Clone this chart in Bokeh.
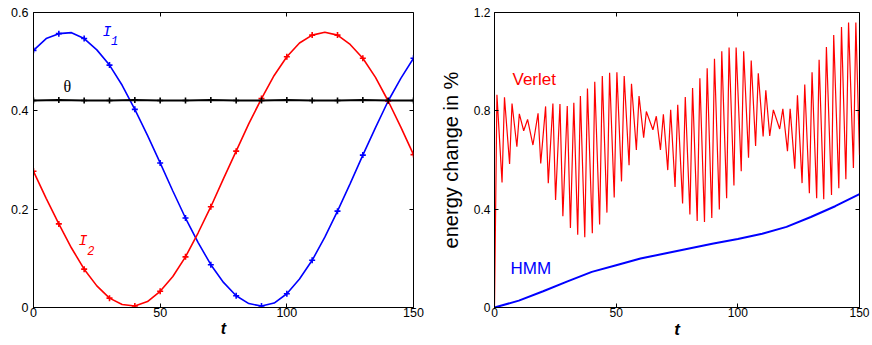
from bokeh.plotting import figure
from bokeh.models import LinearAxis, FixedTicker, Label, Range1d, CustomLabelingPolicy
from bokeh.layouts import row
from bokeh.embed import file_html
from bokeh.resources import INLINE

# ---------------- data: left panel ----------------
t_left = [0, 5, 10, 15, 20, 25, 30, 35, 40, 45, 50, 55, 60, 65, 70, 75,
          80, 85, 90, 95, 100, 105, 110, 115, 120, 125, 130, 135, 140, 145, 150]
I1 = [0.523, 0.547, 0.557, 0.559, 0.547, 0.524, 0.493, 0.452, 0.403, 0.350,
      0.294, 0.237, 0.182, 0.132, 0.087, 0.051, 0.024, 0.008, 0.003, 0.009,
      0.028, 0.058, 0.096, 0.143, 0.196, 0.252, 0.310, 0.366, 0.420, 0.466, 0.507]
I2 = [0.277, 0.222, 0.170, 0.121, 0.078, 0.044, 0.019, 0.006, 0.003, 0.012,
      0.033, 0.063, 0.103, 0.152, 0.205, 0.262, 0.318, 0.374, 0.425, 0.472,
      0.510, 0.538, 0.554, 0.560, 0.554, 0.535, 0.507, 0.468, 0.420, 0.367, 0.311]
t_theta = [0, 10, 20, 30, 40, 50, 60, 70, 80, 90, 100, 110, 120, 130, 140, 150]
theta = [0.421, 0.422, 0.421, 0.421, 0.422, 0.421, 0.421, 0.422,
         0.421, 0.421, 0.422, 0.421, 0.421, 0.422, 0.421, 0.421]

left_xticks = [0, 50, 100, 150]
left_xlabels = ["0", "50", "100", "150"]
left_yticks = [0, 0.2, 0.4, 0.6]
left_ylabels = ["0", "0.2", "0.4", "0.6"]

# ---------------- data: right panel ----------------
verlet_start_t, verlet_start_v = 0.0, 0.0
verlet_end_t, verlet_end_v = 150.0, 0.62
peaks_t = [1.0, 4.1, 7.2, 10.2, 13.6, 17.9, 21.0, 24.0, 26.9, 29.9, 32.6, 35.3,
           38.2, 41.2, 44.3, 47.3, 50.3, 53.3, 56.3, 59.4, 62.4, 66.5, 69.4, 72.4,
           75.3, 78.4, 81.4, 84.4, 87.4, 90.4, 93.4, 96.4, 99.3, 102.4, 105.5, 108.4,
           111.5, 114.6, 118.5, 121.5, 124.5, 127.5, 130.5, 133.4, 136.4, 139.4,
           142.6, 145.5, 148.5]
peaks_v = [0.865, 0.855, 0.830, 0.788, 0.765, 0.790, 0.818, 0.830, 0.828, 0.820,
           0.833, 0.860, 0.891, 0.918, 0.942, 0.955, 0.957, 0.942, 0.910, 0.860,
           0.797, 0.778, 0.786, 0.804, 0.825, 0.856, 0.893, 0.932, 0.973, 1.012,
           1.042, 1.058, 1.058, 1.042, 1.005, 0.953, 0.884, 0.804, 0.808, 0.808,
           0.863, 0.907, 0.957, 1.008, 1.060, 1.108, 1.141, 1.159, 1.159]
troughs_t = [3.1, 6.2, 9.2, 12.0, 15.8, 19.0, 22.1, 25.1, 28.1, 31.2, 34.2, 37.1,
             40.2, 43.2, 46.2, 49.2, 52.2, 55.3, 58.3, 61.3, 65.1, 68.2, 71.2, 74.2,
             77.3, 80.3, 83.3, 86.3, 89.3, 92.4, 95.4, 98.4, 101.4, 104.4, 107.3,
             110.4, 113.1, 117.2, 120.4, 123.4, 126.4, 129.4, 132.4, 135.3, 138.5,
             141.5, 144.4, 147.5]
troughs_v = [0.509, 0.584, 0.654, 0.719, 0.661, 0.586, 0.506, 0.437, 0.371, 0.323,
             0.296, 0.286, 0.302, 0.338, 0.386, 0.448, 0.513, 0.579, 0.641, 0.691,
             0.723, 0.641, 0.559, 0.490, 0.423, 0.378, 0.352, 0.348, 0.364, 0.399,
             0.444, 0.496, 0.554, 0.609, 0.657, 0.696, 0.698, 0.726, 0.636, 0.565,
             0.506, 0.465, 0.444, 0.440, 0.458, 0.485, 0.522, 0.568]
t_hmm = [0, 10, 20, 30, 40, 50, 60, 70, 80, 90, 100, 110, 120, 130, 140, 150]
hmm = [0.0, 0.028, 0.066, 0.106, 0.145, 0.172, 0.199, 0.220, 0.240, 0.260,
       0.279, 0.300, 0.328, 0.368, 0.412, 0.461]

right_xticks = [0, 50, 100, 150]
right_xlabels = ["0", "50", "100", "150"]
right_yticks = [0, 0.4, 0.8, 1.2]
right_ylabels = ["0", "0.4", "0.8", "1.2"]

BLUE = "#0000ff"
RED = "#ff0000"
FONT = "Liberation Sans"

# build verlet series (sorted merge of peaks and troughs)
pts = [(verlet_start_t, verlet_start_v)] + list(zip(peaks_t, peaks_v)) + \
      list(zip(troughs_t, troughs_v)) + [(verlet_end_t, verlet_end_v)]
pts.sort(key=lambda p: p[0])
verlet_t = [p[0] for p in pts]
verlet_v = [p[1] for p in pts]


def style_axis(ax, ticks, labels, size, show=True):
    ax.ticker = FixedTicker(ticks=ticks)
    ax.major_tick_in = 4
    ax.major_tick_out = 0
    ax.minor_tick_in = 0
    ax.minor_tick_out = 0
    ax.axis_line_color = "black"
    ax.axis_line_width = 1
    ax.major_tick_line_color = "black"
    if show:
        ax.major_label_overrides = {tk: lb for tk, lb in zip(ticks, labels)}
        ax.major_label_text_font = FONT
        ax.major_label_text_font_size = size
        ax.major_label_text_color = "black"
        ax.major_label_standoff = 1
    else:
        ax.major_label_policy = CustomLabelingPolicy(code="return []")
        ax.major_label_text_font = FONT
        ax.major_label_text_font_size = "1px"
        ax.major_label_text_alpha = 0
        ax.major_label_standoff = 0


def make_fig(width, xr, yr, bl, br, bt, bb):
    p = figure(width=width, height=345, x_range=Range1d(*xr), y_range=Range1d(*yr),
               output_backend="svg", toolbar_location=None,
               min_border_left=bl, min_border_right=br,
               min_border_top=bt, min_border_bottom=bb)
    p.title.visible = False
    p.xgrid.visible = False
    p.ygrid.visible = False
    p.outline_line_color = "black"
    p.outline_line_alpha = 1
    p.background_fill_color = "white"
    p.border_fill_color = "white"
    return p


def t_label(ax, size):
    ax.axis_label = "t"
    ax.axis_label_text_font = FONT
    ax.axis_label_text_font_style = "bold italic"
    ax.axis_label_text_font_size = size
    ax.axis_label_text_color = "black"
    ax.axis_label_standoff = 0


def box_axes(p, xticks, xlabels, yticks, ylabels, xr, yr):
    top = LinearAxis(fixed_location=yr[1])
    right = LinearAxis(fixed_location=xr[1])
    p.add_layout(top, "above")
    p.add_layout(right, "right")
    style_axis(top, xticks, xlabels, "1px", show=False)
    style_axis(right, yticks, ylabels, "1px", show=False)


# ---------------- left figure ----------------
LX, LY = (0, 150), (0, 0.6)
p1 = make_fig(436, LX, LY, 33, 23, 12, 38)
style_axis(p1.xaxis[0], left_xticks, left_xlabels, "12.5px")
style_axis(p1.yaxis[0], left_yticks, left_ylabels, "12.5px")
p1.xaxis[0].major_label_standoff = 0
p1.yaxis[0].major_label_standoff = 5
t_label(p1.xaxis[0], "16px")
box_axes(p1, left_xticks, left_xlabels, left_yticks, left_ylabels, LX, LY)

p1.line(t_left, I1, color=BLUE, line_width=1.6)
p1.line(t_left, I2, color=RED, line_width=1.6)
p1.line(t_theta, theta, color="black", line_width=2.0)
p1.scatter(t_left[::2], I1[::2], marker="cross", size=6, line_width=1.6, color=BLUE)
p1.scatter(t_left[::2], I2[::2], marker="cross", size=6, line_width=1.6, color=RED)
p1.scatter(t_theta, theta, marker="cross", size=6, line_width=1.6, color="black")

p1.add_layout(Label(x=27.2, y=0.560, text="I", text_color=BLUE,
                    text_font="Liberation Mono", text_font_style="italic",
                    text_font_size="15px", text_baseline="alphabetic"))
p1.add_layout(Label(x=30.6, y=0.543, text="1", text_color=BLUE,
                    text_font="Liberation Mono", text_font_style="italic",
                    text_font_size="12px", text_baseline="alphabetic"))
p1.add_layout(Label(x=17.8, y=0.135, text="I", text_color=RED,
                    text_font="Liberation Mono", text_font_style="italic",
                    text_font_size="15px", text_baseline="alphabetic"))
p1.add_layout(Label(x=21.2, y=0.116, text="2", text_color=RED,
                    text_font="Liberation Mono", text_font_style="italic",
                    text_font_size="12px", text_baseline="alphabetic"))
p1.add_layout(Label(x=11.8, y=0.450, text="θ", text_color="black",
                    text_font="Liberation Serif", text_font_size="16px",
                    text_baseline="alphabetic"))

# ---------------- right figure ----------------
RX, RY = (0, 150), (0, 1.2)
p2 = make_fig(436, RX, RY, 55, 13, 12, 38)
style_axis(p2.xaxis[0], right_xticks, right_xlabels, "12px")
style_axis(p2.yaxis[0], right_yticks, right_ylabels, "12px")
p2.xaxis[0].major_label_standoff = 0
p2.yaxis[0].major_label_standoff = 4
t_label(p2.xaxis[0], "17px")
p2.yaxis[0].axis_label = "energy change in %"
p2.yaxis[0].axis_label_text_font = FONT
p2.yaxis[0].axis_label_text_font_style = "normal"
p2.yaxis[0].axis_label_text_font_size = "20px"
p2.yaxis[0].axis_label_text_color = "black"
p2.yaxis[0].axis_label_standoff = 9
box_axes(p2, right_xticks, right_xlabels, right_yticks, right_ylabels, RX, RY)

p2.line(verlet_t, verlet_v, color=RED, line_width=1.2)
p2.line(t_hmm, hmm, color=BLUE, line_width=2.0)

p2.add_layout(Label(x=7.4, y=0.927, text="Verlet", text_color=RED,
                    text_font=FONT, text_font_size="17px", text_baseline="alphabetic"))
p2.add_layout(Label(x=6.6, y=0.160, text="HMM", text_color=BLUE,
                    text_font=FONT, text_font_size="17px", text_baseline="alphabetic"))

layout = row(p1, p2)
open("out.html", "w").write(file_html(layout, INLINE))
